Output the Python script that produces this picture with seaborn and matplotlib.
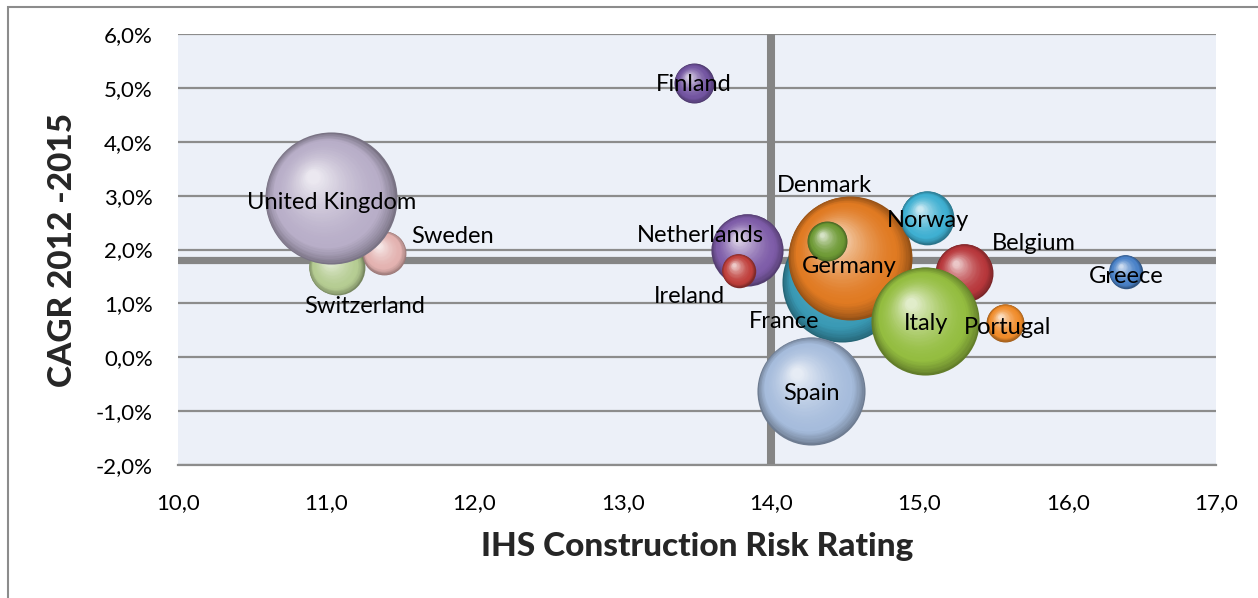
import numpy as np
import pandas as pd
import matplotlib
matplotlib.use("Agg")
import matplotlib.pyplot as plt
import seaborn as sns
from matplotlib.transforms import ScaledTranslation
from matplotlib.colors import to_rgb
from matplotlib.patches import Rectangle
from matplotlib.ticker import FuncFormatter, MultipleLocator

# ---------------- data ----------------
countries = ["Switzerland", "Sweden", "United Kingdom", "Finland", "Netherlands",
             "Ireland", "France", "Germany", "Denmark", "Norway", "Belgium",
             "Italy", "Portugal", "Spain", "Greece"]
risk_rating = [11.07, 11.39, 11.03, 13.48, 13.84, 13.78, 14.48, 14.53, 14.38,
               15.05, 15.30, 15.04, 15.58, 14.27, 16.39]
cagr_pct = [1.67, 1.94, 2.95, 5.09, 2.00, 1.61, 1.39, 1.85, 2.15, 2.59, 1.57,
            0.68, 0.64, -0.62, 1.59]
bubble_size = [39, 24, 218, 20, 65, 14, 180, 192, 20, 36, 42, 146, 18, 146, 14]
x_reference = 14.0
y_reference = 1.8

df = pd.DataFrame({"country": countries, "risk": risk_rating,
                   "cagr": cagr_pct, "size": bubble_size})

# ---------------- styles ----------------
colors = {
    "Switzerland": "#b5cc92", "Sweden": "#e3b2b0", "United Kingdom": "#b8aec8",
    "Finland": "#7254a0", "Netherlands": "#7e5ca8", "Ireland": "#c0403c",
    "France": "#3a9ab5", "Germany": "#e07a22", "Denmark": "#6e9a35",
    "Norway": "#3fb0d2", "Belgium": "#b8383c", "Italy": "#94bd40",
    "Portugal": "#f08c2a", "Spain": "#a6bcdc", "Greece": "#4a82c8",
}
label_offsets = {  # points
    "Finland": (0, -1), "United Kingdom": (1, -3), "Sweden": (49, 11.5),
    "Switzerland": (20, -28), "Netherlands": (-34, 10), "Ireland": (-35, -19),
    "Denmark": (-2, 40), "Germany": (0, -6.5), "France": (-42, -28),
    "Norway": (1, -2), "Belgium": (50, 21), "Greece": (0.7, -3.6),
    "Italy": (0.7, -2), "Portugal": (1.4, -3.6), "Spain": (0, -2),
}
SIZE_SCALE = 41.5  # points^2 per size unit

sns.set_theme(style="white")
plt.rcParams["font.family"] = ["Lato", "DejaVu Sans"]

fig = plt.figure(figsize=(12.58, 5.98), dpi=100)
ax = fig.add_axes([178 / 1258, 1 - 465 / 598, (1216 - 178) / 1258, (465 - 34) / 598])
ax.set_facecolor("#ecf0f8")

ax.set_xlim(10, 17)
ax.set_ylim(-2, 6)
ax.xaxis.set_major_locator(MultipleLocator(1))
ax.yaxis.set_major_locator(MultipleLocator(1))
ax.xaxis.set_major_formatter(FuncFormatter(lambda v, p: f"{v:.1f}".replace(".", ",")))
ax.yaxis.set_major_formatter(FuncFormatter(lambda v, p: f"{v:.1f}%".replace(".", ",")))
ax.grid(axis="y", color="#8c8c8c", linewidth=1.6, zorder=0)
ax.grid(axis="x", visible=False)
ax.set_axisbelow(True)
for side in ["left", "right", "top"]:
    ax.spines[side].set_visible(False)
ax.spines["bottom"].set_color("#8c8c8c")
ax.spines["bottom"].set_linewidth(1.6)
ax.tick_params(axis="both", length=0, labelsize=16, colors="black")
ax.tick_params(axis="y", pad=18)
ax.tick_params(axis="x", pad=20)

# reference cross lines
ax.axvline(x_reference, color="#858585", linewidth=5.8, zorder=1)
ax.axhline(y_reference, color="#858585", linewidth=5.2, zorder=1)


def mix(c1, c2, t):
    c1 = np.array(c1); c2 = np.array(c2)
    return tuple(np.clip(c1 + (c2 - c1) * t, 0, 1))


N = 40
for _, row in df.iterrows():
    base = np.array(to_rgb(colors[row["country"]]))
    dark = base * 0.66
    light = mix(base, (1, 1, 1), 0.72)
    s = row["size"] * SIZE_SCALE
    R = np.sqrt(s) / 2.0
    # base sphere through seaborn
    sns.scatterplot(x=[row["risk"]], y=[row["cagr"]], s=s, color=tuple(dark),
                    linewidth=0, ax=ax, zorder=3, legend=False)
    for i in range(1, N):
        t = i / (N - 1)
        frac = 1 - 0.9 * t
        if t < 0.2:
            c = mix(dark, base, (t / 0.2) ** 0.8)
        else:
            c = mix(base, light, ((t - 0.2) / 0.8) ** 1.6)
        off = (1 - frac) * R * np.array([-0.30, 0.36])
        tr = ax.transData + ScaledTranslation(off[0] / 72, off[1] / 72, fig.dpi_scale_trans)
        ax.scatter([row["risk"]], [row["cagr"]], s=s * frac ** 2, color=c,
                   linewidths=0, transform=tr, zorder=3)

for _, row in df.iterrows():
    dx, dy = label_offsets[row["country"]]
    ax.annotate(row["country"], (row["risk"], row["cagr"]), xytext=(dx, dy),
                textcoords="offset points", ha="center", va="center",
                fontsize=17, color="black", zorder=10)

ax.set_xlabel("IHS Construction Risk Rating", fontsize=24, fontweight="black", labelpad=14)
ax.set_ylabel("CAGR 2012 -2015", fontsize=24, fontweight="black", labelpad=14)

fig.patches.append(Rectangle((8 / 1258, -0.05), 1.2, 1.05 - 7 / 598,
                             transform=fig.transFigure, fill=False,
                             edgecolor="#8c8c8c", linewidth=1.5))

fig.savefig("out.png", dpi=100)
